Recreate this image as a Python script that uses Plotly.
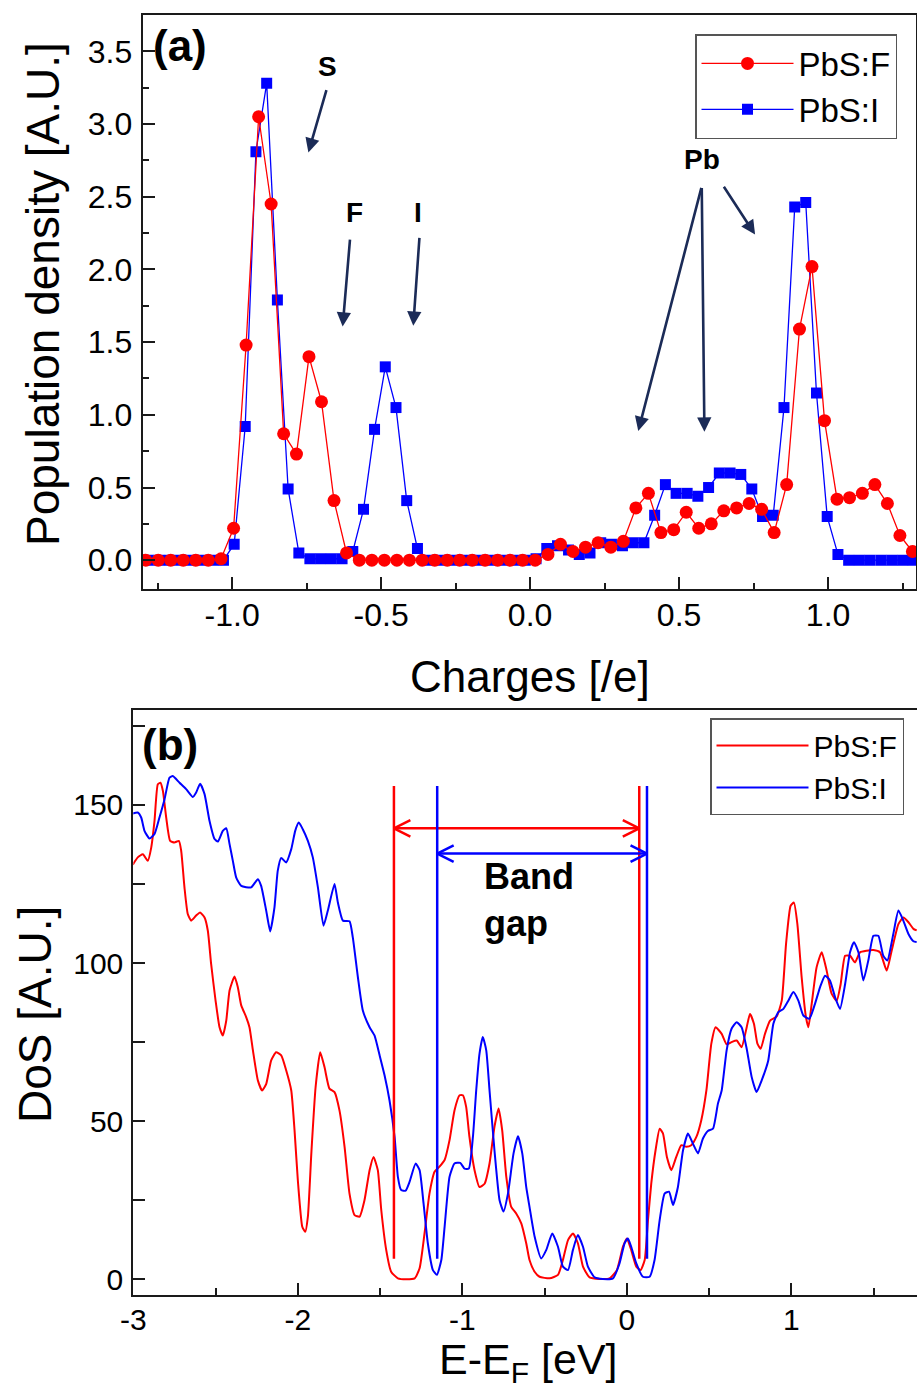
import plotly.graph_objects as go

# ---------------- Panel (a): population density vs charge ----------------
red_x = [-1.290, -1.248, -1.206, -1.164, -1.122, -1.080, -1.037, -0.995, -0.953, -0.911,
         -0.869, -0.827, -0.784, -0.742, -0.700, -0.658, -0.616, -0.573, -0.531, -0.489,
         -0.447, -0.405, -0.362, -0.320, -0.278, -0.236, -0.194, -0.151, -0.109, -0.067,
         -0.025, 0.017, 0.060, 0.102, 0.144, 0.186, 0.228, 0.271, 0.313, 0.355,
         0.397, 0.439, 0.482, 0.524, 0.566, 0.608, 0.650, 0.693, 0.735, 0.777,
         0.819, 0.861, 0.904, 0.946, 0.988, 1.030, 1.072, 1.115, 1.157, 1.199,
         1.241, 1.283]
red_y = [0, 0, 0, 0, 0, 0, 0.01, 0.22, 1.48, 3.05,
         2.45, 0.87, 0.73, 1.40, 1.09, 0.41, 0.05, 0, 0, 0,
         0, 0, 0, 0, 0, 0, 0, 0, 0, 0,
         0, 0, 0.04, 0.11, 0.06, 0.09, 0.12, 0.09, 0.13, 0.36,
         0.46, 0.19, 0.21, 0.33, 0.22, 0.25, 0.34, 0.36, 0.39, 0.35,
         0.19, 0.52, 1.59, 2.02, 0.96, 0.42, 0.43, 0.46, 0.52, 0.39,
         0.17, 0.06]

blue_x = [-1.282, -1.246, -1.210, -1.173, -1.137, -1.101, -1.065, -1.029, -0.993, -0.956,
          -0.920, -0.884, -0.848, -0.812, -0.776, -0.739, -0.703, -0.667, -0.631, -0.595,
          -0.559, -0.522, -0.486, -0.450, -0.414, -0.378, -0.342, -0.305, -0.269, -0.233,
          -0.197, -0.161, -0.125, -0.088, -0.052, -0.016, 0.020, 0.056, 0.092, 0.129,
          0.165, 0.201, 0.237, 0.273, 0.310, 0.346, 0.382, 0.418, 0.454, 0.490,
          0.527, 0.563, 0.599, 0.635, 0.671, 0.707, 0.744, 0.780, 0.816, 0.852,
          0.888, 0.925, 0.961, 0.997, 1.033, 1.069, 1.105, 1.141, 1.178, 1.214,
          1.250, 1.286]
blue_y = [0, 0, 0, 0, 0, 0, 0, 0, 0.11, 0.92,
          2.81, 3.28, 1.79, 0.49, 0.05, 0.01, 0.01, 0.01, 0.01, 0.06,
          0.35, 0.90, 1.33, 1.05, 0.41, 0.08, 0, 0, 0, 0,
          0, 0, 0, 0, 0, 0, 0.01, 0.08, 0.10, 0.07,
          0.04, 0.05, 0.12, 0.11, 0.10, 0.12, 0.12, 0.31, 0.52, 0.46,
          0.46, 0.44, 0.50, 0.60, 0.60, 0.59, 0.49, 0.30, 0.31, 1.05,
          2.43, 2.46, 1.15, 0.30, 0.04, 0, 0, 0, 0, 0,
          0, 0]

a_xticks = [-1.0, -0.5, 0.0, 0.5, 1.0]
a_xticktext = ["-1.0", "-0.5", "0.0", "0.5", "1.0"]
a_yticks = [0.0, 0.5, 1.0, 1.5, 2.0, 2.5, 3.0, 3.5]
a_yticktext = ["0.0", "0.5", "1.0", "1.5", "2.0", "2.5", "3.0", "3.5"]

# ---------------- Panel (b): density of states ----------------
dos_F_x = [-3.003, -2.973, -2.942, -2.912, -2.891, -2.871, -2.851, -2.835, -2.820, -2.800,
           -2.776, -2.750, -2.723, -2.709, -2.689, -2.669, -2.648, -2.618, -2.594, -2.567,
           -2.547, -2.527, -2.500, -2.476, -2.456, -2.435, -2.415, -2.385, -2.365, -2.344,
           -2.314, -2.294, -2.273, -2.243, -2.217, -2.192, -2.162, -2.132, -2.101, -2.071,
           -2.040, -2.020, -2.000, -1.973, -1.955, -1.939, -1.918, -1.892, -1.864, -1.838,
           -1.808, -1.777, -1.747, -1.716, -1.686, -1.655, -1.625, -1.595, -1.564, -1.540,
           -1.514, -1.493, -1.463, -1.433, -1.392, -1.341, -1.290, -1.260, -1.230, -1.200,
           -1.169, -1.139, -1.108, -1.078, -1.048, -1.017, -0.997, -0.977, -0.957, -0.926,
           -0.896, -0.865, -0.835, -0.805, -0.780, -0.758, -0.733, -0.703, -0.673, -0.642,
           -0.612, -0.592, -0.561, -0.531, -0.470, -0.419, -0.389, -0.358, -0.328, -0.298,
           -0.267, -0.227, -0.166, -0.105, -0.061, -0.024, 0.000, 0.026, 0.057, 0.083,
           0.108, 0.128, 0.148, 0.174, 0.199, 0.219, 0.243, 0.270, 0.300, 0.331,
           0.361, 0.391, 0.422, 0.452, 0.483, 0.513, 0.539, 0.576, 0.606, 0.636,
           0.667, 0.697, 0.728, 0.748, 0.772, 0.793, 0.813, 0.839, 0.870, 0.910,
           0.941, 0.967, 0.995, 1.015, 1.036, 1.062, 1.088, 1.103, 1.123, 1.153,
           1.184, 1.214, 1.244, 1.275, 1.299, 1.326, 1.356, 1.386, 1.417, 1.457,
           1.498, 1.538, 1.579, 1.609, 1.650, 1.680, 1.711, 1.741, 1.761]
dos_F_y = [131.1, 133.4, 134.4, 132.3, 136.5, 145.0, 156.5, 157.0, 154.4, 146.0,
           138.6, 138.1, 138.6, 135.5, 123.9, 115.5, 113.4, 115.0, 116.0, 114.4,
           110.2, 99.7, 88.1, 79.7, 77.1, 81.8, 91.3, 95.7, 92.4, 86.6,
           82.9, 79.7, 72.4, 62.9, 59.7, 61.8, 69.2, 71.8, 70.8, 66.1,
           59.7, 47.1, 31.3, 16.6, 15.0, 19.8, 39.8, 60.8, 71.8, 67.1,
           60.3, 59.2, 53.4, 41.9, 27.1, 20.3, 19.8, 25.0, 34.5, 38.7,
           34.5, 21.9, 9.3, 2.4, 0.3, 0.0, 0.3, 3.5, 14.5, 27.1,
           34.0, 35.6, 37.7, 44.0, 53.4, 58.2, 58.2, 54.5, 45.0, 34.5,
           29.2, 30.2, 36.6, 48.2, 54.0, 47.1, 32.4, 22.9, 20.8, 17.7,
           11.4, 6.1, 2.4, 0.8, 0.3, 1.4, 6.1, 12.4, 14.5, 11.4,
           4.0, 0.6, 0.1, 0.3, 2.9, 10.3, 12.9, 9.3, 4.0, 2.9,
           6.1, 18.7, 30.3, 40.8, 47.6, 46.1, 38.7, 34.5, 38.7, 42.4,
           41.9, 42.4, 45.0, 50.3, 59.7, 74.5, 79.7, 77.6, 74.3, 75.0,
           75.5, 73.4, 79.7, 83.9, 80.8, 74.5, 72.9, 77.6, 81.8, 83.1,
           88.1, 106.0, 118.1, 119.1, 112.3, 95.5, 82.9, 79.7, 87.1, 98.7,
           103.4, 97.6, 90.3, 88.1, 93.3, 102.3, 102.3, 100.2, 103.4, 103.9,
           104.1, 103.4, 97.6, 103.9, 112.3, 114.4, 112.9, 110.8, 110.3]

dos_I_x = [-3.003, -2.973, -2.952, -2.932, -2.902, -2.871, -2.841, -2.810, -2.780, -2.760,
           -2.719, -2.679, -2.638, -2.618, -2.594, -2.567, -2.537, -2.506, -2.486, -2.456,
           -2.435, -2.415, -2.395, -2.375, -2.344, -2.284, -2.243, -2.223, -2.192, -2.168,
           -2.142, -2.122, -2.101, -2.071, -2.040, -2.016, -1.994, -1.970, -1.939, -1.909,
           -1.878, -1.844, -1.818, -1.777, -1.757, -1.726, -1.686, -1.666, -1.635, -1.605,
           -1.564, -1.534, -1.503, -1.473, -1.443, -1.412, -1.392, -1.372, -1.345, -1.321,
           -1.284, -1.260, -1.236, -1.210, -1.179, -1.155, -1.128, -1.108, -1.078, -1.048,
           -1.013, -0.987, -0.961, -0.936, -0.916, -0.896, -0.876, -0.855, -0.835, -0.805,
           -0.774, -0.750, -0.723, -0.689, -0.662, -0.636, -0.612, -0.592, -0.561, -0.521,
           -0.490, -0.454, -0.419, -0.389, -0.358, -0.328, -0.298, -0.267, -0.237, -0.196,
           -0.146, -0.085, -0.045, -0.014, 0.006, 0.026, 0.057, 0.097, 0.138, 0.168,
           0.199, 0.229, 0.256, 0.280, 0.310, 0.341, 0.371, 0.401, 0.432, 0.462,
           0.492, 0.523, 0.553, 0.576, 0.606, 0.636, 0.667, 0.697, 0.728, 0.758,
           0.788, 0.819, 0.859, 0.890, 0.920, 0.951, 0.981, 1.011, 1.042, 1.072,
           1.109, 1.143, 1.174, 1.204, 1.234, 1.265, 1.295, 1.326, 1.356, 1.380,
           1.407, 1.437, 1.467, 1.498, 1.528, 1.558, 1.583, 1.619, 1.650, 1.680,
           1.711, 1.741, 1.761]
dos_I_y = [147.3, 147.6, 146.0, 141.8, 139.4, 140.8, 146.0, 151.8, 158.6, 159.1,
           157.0, 155.0, 152.5, 153.9, 156.7, 153.4, 145.0, 139.2, 138.4, 141.8,
           142.6, 137.6, 132.3, 127.1, 124.4, 123.9, 126.5, 124.4, 116.5, 110.0,
           117.6, 129.2, 133.2, 131.8, 136.0, 141.8, 144.4, 142.3, 138.6, 133.4,
           123.9, 111.8, 116.5, 125.0, 119.2, 113.4, 113.2, 108.1, 95.5, 85.0,
           79.7, 77.1, 70.8, 64.5, 56.6, 45.0, 32.4, 28.2, 28.0, 30.8,
           36.6, 34.5, 24.0, 11.4, 2.9, 1.4, 6.1, 16.6, 32.4, 36.6,
           36.8, 35.0, 35.0, 45.0, 59.7, 71.3, 76.6, 72.4, 59.7, 40.8,
           25.0, 21.4, 27.1, 39.8, 45.2, 39.8, 29.2, 22.9, 13.5, 6.6,
           9.3, 14.5, 10.3, 4.0, 2.9, 9.3, 14.0, 10.3, 4.0, 0.6,
           0.1, 0.3, 5.0, 11.4, 12.9, 10.3, 5.0, 0.8, 0.8, 6.1,
           18.7, 27.1, 27.7, 23.5, 29.2, 40.8, 46.1, 42.9, 39.8, 44.5,
           46.9, 47.6, 55.5, 59.7, 72.4, 79.2, 81.3, 79.7, 72.9, 64.0,
           59.2, 62.9, 69.2, 80.8, 84.5, 85.5, 88.1, 90.8, 88.1, 83.4,
           82.4, 87.1, 92.4, 96.0, 94.5, 89.2, 85.5, 93.3, 103.4, 106.6,
           103.4, 94.5, 100.8, 108.6, 108.6, 102.3, 100.8, 109.2, 116.6, 113.4,
           109.2, 106.9, 106.6]

b_xticks = [-3, -2, -1, 0, 1]
b_xticktext = ["-3", "-2", "-1", "0", "1"]
b_yticks = [0, 50, 100, 150]
b_yticktext = ["0", "50", "100", "150"]

# band edges (valence top, conduction bottom) for each system
gap_F = [-1.416, 0.075]
gap_I = [-1.153, 0.122]
gap_line_span = [6.5, 156.0]
gap_arrow_y = {"F": 142.6, "I": 134.6}

RED = "#ff0000"
BLUE = "#0000ff"
NAVY = "#1b2b57"
FONT = "Liberation Sans, Arial, sans-serif"

fig = go.Figure()

# panel (a) traces (blue first so red markers sit on top)
fig.add_trace(go.Scatter(x=blue_x, y=blue_y, mode="lines+markers", name="PbS:I",
                         line=dict(color=BLUE, width=1.3),
                         marker=dict(symbol="square", size=11, color=BLUE),
                         xaxis="x", yaxis="y", legend="legend", legendrank=2))
fig.add_trace(go.Scatter(x=red_x, y=red_y, mode="lines+markers", name="PbS:F",
                         line=dict(color=RED, width=1.3),
                         marker=dict(symbol="circle", size=13, color=RED),
                         xaxis="x", yaxis="y", legend="legend", legendrank=1))

# panel (b) traces
fig.add_trace(go.Scatter(x=dos_F_x, y=dos_F_y, mode="lines", name="PbS:F",
                         line=dict(color=RED, width=2, shape="spline", smoothing=0.5),
                         xaxis="x2", yaxis="y2", legend="legend2"))
fig.add_trace(go.Scatter(x=dos_I_x, y=dos_I_y, mode="lines", name="PbS:I",
                         line=dict(color=BLUE, width=2, shape="spline", smoothing=0.5),
                         xaxis="x2", yaxis="y2", legend="legend2"))

# band-gap markers: vertical edges + double-headed chevron arrows
chev_dx, chev_dy = 0.10, 2.6
for gap, key, col in [(gap_F, "F", RED), (gap_I, "I", BLUE)]:
    lo, hi = gap
    ya = gap_arrow_y[key]
    xs = [lo, lo, None, hi, hi, None, lo, hi, None,
          lo + chev_dx, lo, lo + chev_dx, None,
          hi - chev_dx, hi, hi - chev_dx]
    ys = [gap_line_span[0], gap_line_span[1], None, gap_line_span[0], gap_line_span[1], None,
          ya, ya, None,
          ya + chev_dy, ya, ya - chev_dy, None,
          ya + chev_dy, ya, ya - chev_dy]
    fig.add_trace(go.Scatter(x=xs, y=ys, mode="lines", line=dict(color=col, width=2.5),
                             showlegend=False, hoverinfo="skip", xaxis="x2", yaxis="y2"))

W, H = 917, 1394

def px_x(p):
    return p / W

def px_y(p):
    return 1 - p / H

axis_common = dict(showline=True, linewidth=2, linecolor="#1a1a1a", mirror=True,
                   ticks="inside", tickwidth=2, tickcolor="#1a1a1a",
                   showgrid=False, zeroline=False, automargin=False,
                   tickfont=dict(family=FONT, size=32, color="black"))
tick_b = dict(family=FONT, size=30, color="black")

fig.update_layout(
    width=W, height=H,
    margin=dict(l=0, r=0, t=0, b=0, autoexpand=False),
    paper_bgcolor="white", plot_bgcolor="white",
    font=dict(family=FONT, color="black"),
    xaxis=dict(domain=[px_x(142.7), px_x(916)], range=[-1.3, 1.295], anchor="y",
               tickmode="array", tickvals=a_xticks, ticktext=a_xticktext, ticklen=12,
               ticklabelstandoff=-4,
               minor=dict(tickmode="linear", tick0=-1.25, dtick=0.5, ticklen=6,
                          ticks="inside", tickwidth=2, tickcolor="#1a1a1a"),
               **axis_common),
    yaxis=dict(domain=[px_y(589.3), px_y(15)], range=[-0.2, 3.75], anchor="x",
               tickmode="array", tickvals=a_yticks, ticktext=a_yticktext, ticklen=12,
               ticklabelstandoff=2,
               minor=dict(tickmode="linear", tick0=0.25, dtick=0.5, ticklen=6,
                          ticks="inside", tickwidth=2, tickcolor="#1a1a1a"),
               **axis_common),
    xaxis2=dict(domain=[px_x(133.3), 1.0], range=[-3.0, 1.763], anchor="y2",
                tickmode="array", tickvals=b_xticks, ticktext=b_xticktext, ticklen=12,
                ticklabelstandoff=-3,
                minor=dict(tickmode="linear", tick0=-2.5, dtick=1.0, ticklen=7,
                           ticks="inside", tickwidth=2, tickcolor="#1a1a1a"),
                **{**axis_common, "tickfont": tick_b}),
    yaxis2=dict(domain=[px_y(1295.1), px_y(710)], range=[-5, 180], anchor="x2",
                tickmode="array", tickvals=b_yticks, ticktext=b_yticktext, ticklen=12,
                ticklabelstandoff=2,
                minor=dict(tickmode="linear", tick0=25, dtick=50, ticklen=12,
                           ticks="inside", tickwidth=2, tickcolor="#1a1a1a"),
                **{**axis_common, "tickfont": tick_b}),
    legend=dict(x=px_x(695), y=px_y(34), xanchor="left", yanchor="top",
                bgcolor="white", bordercolor="#555555", borderwidth=1.5,
                font=dict(family=FONT, size=33, color="black"), itemwidth=92,
                traceorder="normal"),
    legend2=dict(x=px_x(710), y=px_y(718), xanchor="left", yanchor="top",
                 bgcolor="white", bordercolor="#555555", borderwidth=1.5,
                 font=dict(family=FONT, size=30, color="black"), itemwidth=92),
    showlegend=True,
)

annotations = []
# axis titles
annotations.append(dict(text="Charges [/e]", x=px_x(530), y=px_y(677), xref="paper", yref="paper",
                        showarrow=False, font=dict(family=FONT, size=44), xanchor="center", yanchor="middle"))
annotations.append(dict(text="Population density [A.U.]", x=px_x(43), y=px_y(294), xref="paper", yref="paper",
                        showarrow=False, textangle=-90, font=dict(family=FONT, size=46),
                        xanchor="center", yanchor="middle"))
annotations.append(dict(text="E-E<sub>F</sub> [eV]", x=px_x(528), y=px_y(1362), xref="paper", yref="paper",
                        showarrow=False, font=dict(family=FONT, size=43), xanchor="center", yanchor="middle"))
annotations.append(dict(text="DoS [A.U.]", x=px_x(35), y=px_y(1015), xref="paper", yref="paper",
                        showarrow=False, textangle=-90, font=dict(family=FONT, size=46),
                        xanchor="center", yanchor="middle"))
# panel labels
annotations.append(dict(text="<b>(a)</b>", x=-1.176, y=3.54, xref="x", yref="y", showarrow=False,
                        font=dict(family=FONT, size=44), xanchor="center", yanchor="middle"))
annotations.append(dict(text="<b>(b)</b>", x=-2.78, y=169.2, xref="x2", yref="y2", showarrow=False,
                        font=dict(family=FONT, size=44), xanchor="center", yanchor="middle"))
# element labels in (a)
for txt, tx, ty in [("S", -0.680, 3.394), ("F", -0.590, 2.393), ("I", -0.375, 2.393), ("Pb", 0.577, 2.756)]:
    annotations.append(dict(text="<b>%s</b>" % txt, x=tx, y=ty, xref="x", yref="y", showarrow=False,
                            font=dict(family=FONT, size=28), xanchor="center", yanchor="middle"))
# arrows in (a): (tail_x, tail_y, head_x, head_y)
for t_x, t_y, h_x, h_y in [(-0.682, 3.244, -0.744, 2.805),
                           (-0.604, 2.215, -0.629, 1.607),
                           (-0.371, 2.228, -0.392, 1.613),
                           (0.576, 2.571, 0.363, 0.889),
                           (0.576, 2.571, 0.585, 0.884),
                           (0.647, 2.579, 0.755, 2.240)]:
    annotations.append(dict(text="", x=h_x, y=h_y, ax=t_x, ay=t_y, xref="x", yref="y",
                            axref="x", ayref="y", showarrow=True, arrowhead=2, arrowsize=1.1,
                            arrowwidth=2.6, arrowcolor=NAVY, standoff=0, startstandoff=0))
# band gap text
annotations.append(dict(text="<b>Band<br>gap</b>", x=-0.882, y=120, xref="x2", yref="y2", showarrow=False,
                        font=dict(family=FONT, size=36), xanchor="left", yanchor="middle", align="left"))

fig.update_layout(annotations=annotations)

fig.write_html("out.html")
